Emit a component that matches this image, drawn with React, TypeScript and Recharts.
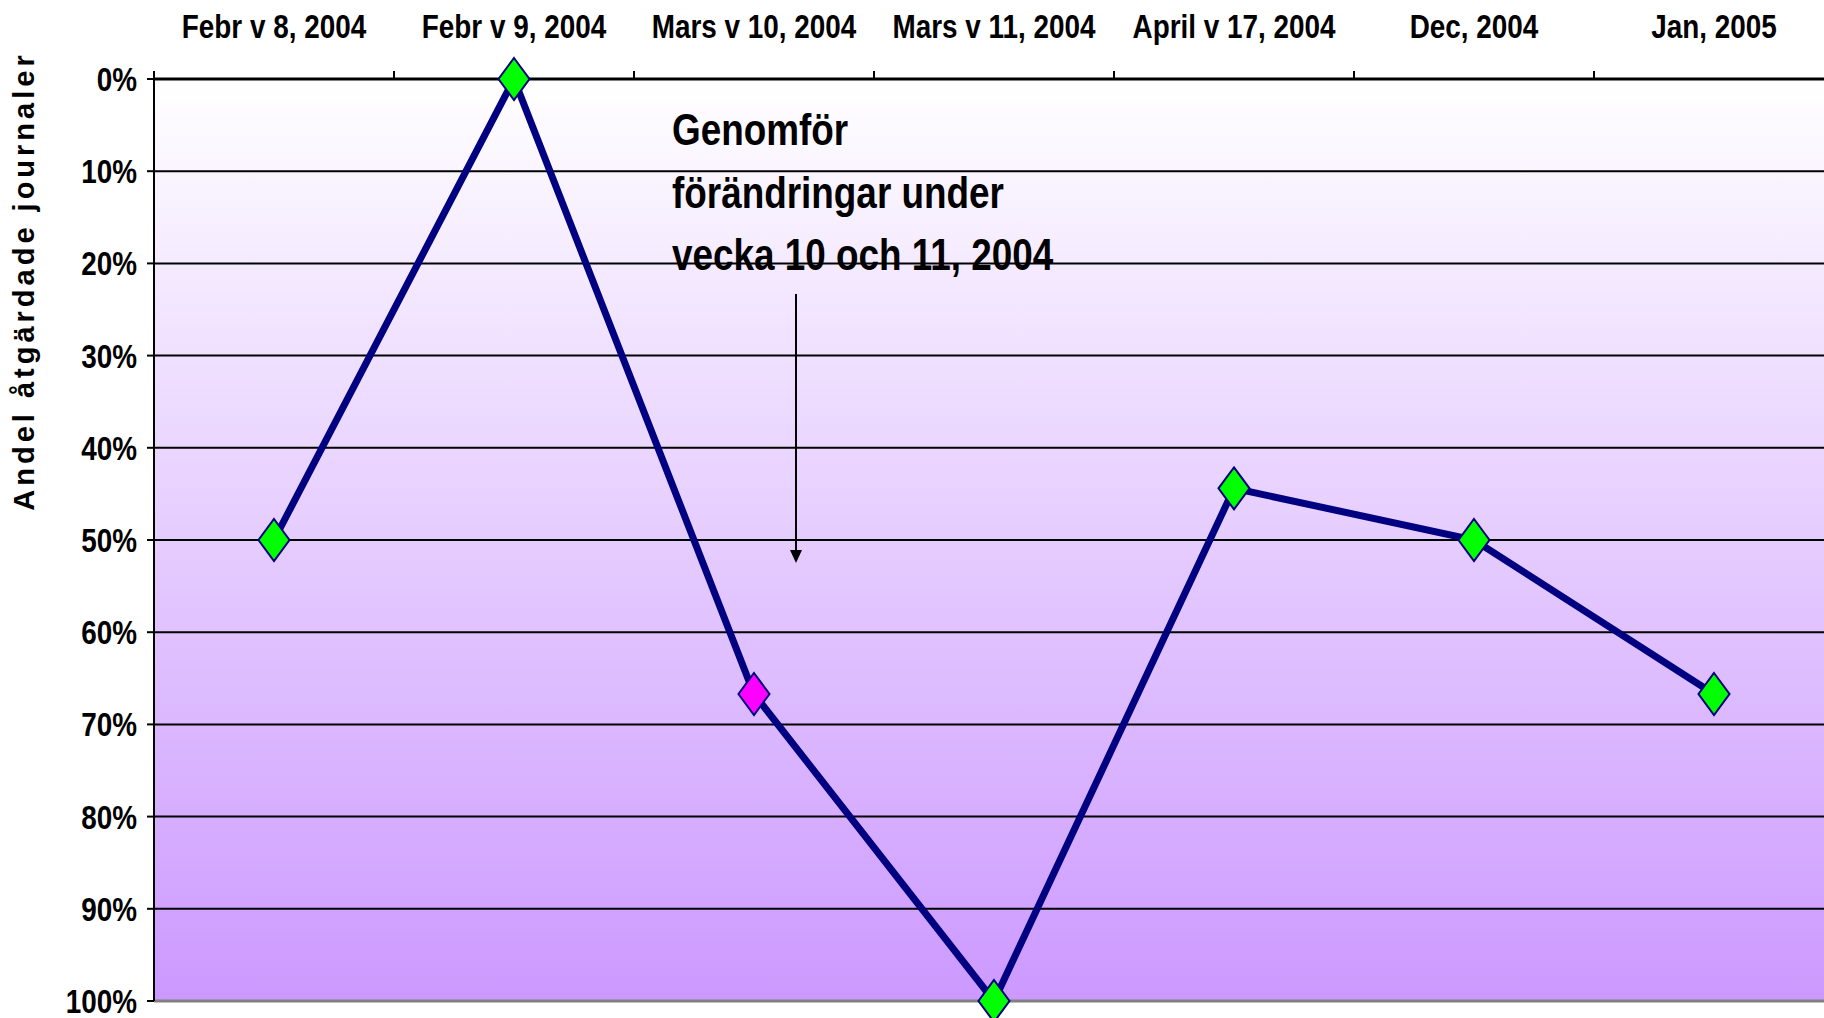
import React from "react";
import { LineChart, Line, XAxis, YAxis, CartesianGrid, ReferenceLine } from "recharts";

const categories = [
  "Febr v 8, 2004",
  "Febr v 9, 2004",
  "Mars v 10, 2004",
  "Mars v 11, 2004",
  "April v 17, 2004",
  "Dec, 2004",
  "Jan, 2005",
];
const shareValues = [0.5, 0.0, 0.667, 1.0, 0.444, 0.5, 0.667];
const yTicks = [0, 0.1, 0.2, 0.3, 0.4, 0.5, 0.6, 0.7, 0.8, 0.9, 1.0];
const yAxisTitle = "Andel åtgärdade journaler";
const annotationLines = ["Genomför", "förändringar under", "vecka 10 och 11, 2004"];
const highlightedCategory = "Mars v 10, 2004";

const data = categories.map((c, i) => ({ name: c, value: shareValues[i] }));

const FONT = "'Liberation Sans', Arial, sans-serif";
const NARROW_SCALE = 0.82;

// Narrow bold text: Liberation Sans Bold compressed horizontally (like Arial Narrow)
const NarrowText = ({ x, y, anchor, size, children }: any) => (
  <text
    transform={`translate(${x},${y}) scale(${NARROW_SCALE},1)`}
    x={0}
    y={0}
    textAnchor={anchor}
    fontFamily={FONT}
    fontWeight="bold"
    fontSize={size}
    fill="#000"
  >
    {children}
  </text>
);

const XTick = (props: any) => {
  const { x, y, payload } = props;
  const off = payload && typeof payload.offset === "number" ? payload.offset : 0;
  const axisY = y + 41;
  return (
    <g>
      <line x1={x - off} y1={axisY} x2={x - off} y2={axisY - 8} stroke="#000" strokeWidth={2} />
      <NarrowText x={x} y={axisY - 41} anchor="middle" size={34}>
        {payload.value}
      </NarrowText>
    </g>
  );
};

const YTick = (props: any) => {
  const { x, y, payload } = props;
  return (
    <NarrowText x={x} y={y + 12} anchor="end" size={34}>
      {Math.round(payload.value * 100) + "%"}
    </NarrowText>
  );
};

const Diamond = (props: any) => {
  const { cx, cy, payload } = props;
  if (cx == null || cy == null) return null;
  const w = 15.5;
  const h = 21;
  const fill = payload && payload.name === highlightedCategory ? "#FF00FF" : "#00FF00";
  return (
    <polygon
      points={`${cx},${cy - h} ${cx + w},${cy} ${cx},${cy + h} ${cx - w},${cy}`}
      fill={fill}
      stroke="#000080"
      strokeWidth={2}
    />
  );
};

export default function App() {
  return (
    <div style={{ position: "fixed", left: 0, top: 0, width: 1824, height: 1018, overflow: "hidden", background: "#fff" }}>
      <svg width={0} height={0} style={{ position: "absolute" }}>
        <defs>
          <linearGradient id="plotBg" x1="0" y1="0" x2="0" y2="1">
            <stop offset="0%" stopColor="#FFFFFF" />
            <stop offset="100%" stopColor="#CC99FF" />
          </linearGradient>
        </defs>
      </svg>
      <LineChart width={1834} height={1018} data={data} margin={{ top: 0, right: 0, bottom: 17, left: 0 }}>
        <CartesianGrid vertical={false} stroke="#000" strokeWidth={2} fill="url(#plotBg)" fillOpacity={1} />
        <XAxis
          dataKey="name"
          orientation="top"
          scale="band"
          height={79}
          axisLine={{ stroke: "#000", strokeWidth: 3 }}
          tickLine={false}
          tickSize={8}
          tickMargin={33}
          interval={0}
          tick={<XTick />}
        />
        <YAxis
          reversed
          domain={[0, 1]}
          ticks={yTicks}
          interval={0}
          width={154}
          axisLine={{ stroke: "#000", strokeWidth: 2 }}
          tickLine={{ stroke: "#000", strokeWidth: 2 }}
          tickSize={7}
          tickMargin={10}
          tick={<YTick />}
          label={{
            content: () => (
              <text
                x={34}
                y={281}
                transform="rotate(-90 34 281)"
                textAnchor="middle"
                fontFamily={FONT}
                fontWeight="bold"
                fontSize={29}
                letterSpacing={4}
                fill="#000"
              >
                {yAxisTitle}
              </text>
            ),
          }}
        />
        <ReferenceLine y={1} stroke="#808080" strokeWidth={3} />
        <Line
          type="linear"
          dataKey="value"
          stroke="#000080"
          strokeWidth={7}
          dot={<Diamond />}
          activeDot={false}
          isAnimationActive={false}
        />
      </LineChart>
      <svg width={1824} height={1018} style={{ position: "absolute", left: 0, top: 0, pointerEvents: "none" }}>
        {annotationLines.map((t, i) => (
          <NarrowText key={i} x={672} y={145 + i * 62.5} anchor="start" size={45}>
            {t}
          </NarrowText>
        ))}
        <line x1={796} y1={294} x2={796} y2={552} stroke="#000" strokeWidth={2} />
        <polygon points="790,550 802,550 796,563" fill="#000" />
      </svg>
    </div>
  );
}
